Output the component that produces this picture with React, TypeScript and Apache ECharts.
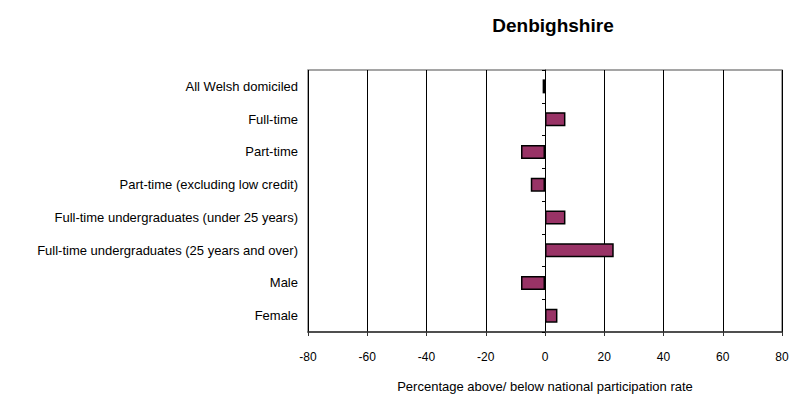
import React, { useEffect, useRef } from "react";
import * as echarts from "echarts";

const categories = [
  "All Welsh domiciled",
  "Full-time",
  "Part-time",
  "Part-time (excluding low credit)",
  "Full-time undergraduates (under 25 years)",
  "Full-time undergraduates (25 years and over)",
  "Male",
  "Female",
];
const values = [-0.8, 6.9, -8.1, -4.8, 6.9, 23.2, -8.1, 4.2];
const titleText = "Denbighshire";
const xAxisName = "Percentage above/ below national participation rate";

export default function App() {
  const ref = useRef<HTMLDivElement>(null);
  useEffect(() => {
    if (!ref.current) return;
    const chart = echarts.init(ref.current, undefined, { renderer: "svg" });
    const font = "Liberation Sans, Arial, sans-serif";
    chart.setOption({
      animation: false,
      backgroundColor: "#fff",
      title: {
        text: titleText,
        left: 548,
        textAlign: "center",
        top: 11,
        textStyle: { fontFamily: font, fontSize: 19, fontWeight: "bold", color: "#000" },
      },
      grid: {
        left: 308,
        right: 12,
        top: 70,
        bottom: 69,
        show: true,
        borderColor: "#888",
        borderWidth: 1.5,
      },
      xAxis: {
        type: "value",
        min: -80,
        max: 80,
        interval: 20,
        name: xAxisName,
        nameLocation: "middle",
        nameGap: 48,
        nameTextStyle: { fontFamily: font, fontSize: 13, color: "#000" },
        axisLine: { show: true, onZero: false, lineStyle: { color: "#333", width: 1.5 } },
        axisTick: { show: true, length: 4, lineStyle: { color: "#333" } },
        axisLabel: { fontFamily: font, fontSize: 12, color: "#000", margin: 19 },
        splitLine: { show: true, lineStyle: { color: "#000", width: 1 } },
      },
      yAxis: [
        {
          type: "category",
          data: categories,
          inverse: true,
          position: "left",
          axisLine: { show: false, onZero: false },
          axisTick: { show: false },
          axisLabel: { fontFamily: font, fontSize: 13, color: "#000", margin: 10 },
        },
        {
          type: "category",
          data: categories,
          inverse: true,
          position: "left",
          axisLine: { show: true, onZero: true, lineStyle: { color: "#000", width: 1 } },
          axisTick: { show: true, length: 3, lineStyle: { color: "#000" } },
          axisLabel: { show: false },
        },
      ],
      series: [
        {
          type: "bar",
          data: values,
          yAxisIndex: 0,
          barWidth: 14,
          itemStyle: { color: "#993366", borderColor: "#000", borderWidth: 1.5 },
        },
      ],
    });
    return () => chart.dispose();
  }, []);
  return (
    <div
      ref={ref}
      style={{ position: "absolute", left: 0, top: 0, width: 794, height: 401 }}
    />
  );
}
